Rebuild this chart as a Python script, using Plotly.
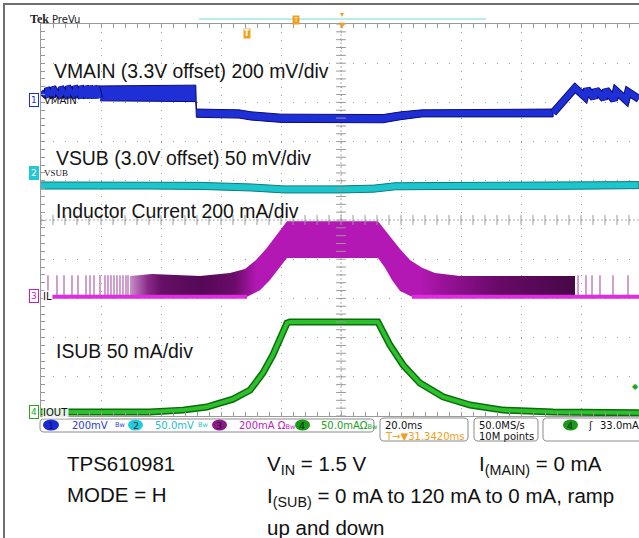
import plotly.graph_objects as go

# ---------------- data (time in ms, 20 ms/div ; vertical in screen divisions 0..10) ----------------
# Channel 1 VMAIN: filled band (upper / lower envelope)
vmain_t = [19.7, 51.6, 51.8, 66, 70, 80, 114, 120, 127, 170.7]
vmain_hi = [8.42, 8.44, 7.83, 7.81, 7.76, 7.70, 7.69, 7.76, 7.81, 7.83]
vmain_lo = [8.04, 8.02, 7.62, 7.60, 7.55, 7.49, 7.48, 7.56, 7.63, 7.63]
# VMAIN sawtooth ripple, left and right parts
vsawL_t = [0, 2, 2, 4, 4, 6.7, 6.7, 9, 9, 11.3, 11.3, 13.3, 13.3, 15, 15, 16.3, 16.3, 17.7, 17.7, 18.7, 18.7, 19.7]
vsawL_d = [8.27, 8.14, 8.37, 8.12, 8.39, 8.11, 8.40, 8.11, 8.42, 8.11, 8.42, 8.11, 8.42, 8.11, 8.42, 8.11, 8.42, 8.11, 8.42, 8.11, 8.42, 8.11]
vsawR_t = [170.7, 174.7, 178, 181.3, 182, 184.3, 185, 187.7, 188.3, 191, 191.7, 195, 195.7, 199.3]
vsawR_d = [7.73, 8.06, 8.37, 8.14, 8.34, 8.11, 8.32, 8.09, 8.32, 8.06, 8.29, 8.06, 8.27, 8.09]

# Channel 2 VSUB band
vsub_t = [0, 36, 53, 70, 81, 100, 111, 118, 136, 170, 199.3]
vsub_hi = [5.97, 5.97, 5.96, 5.92, 5.87, 5.87, 5.89, 5.95, 5.96, 5.96, 5.98]
vsub_lo = [5.79, 5.79, 5.78, 5.74, 5.69, 5.69, 5.71, 5.77, 5.78, 5.78, 5.80]

# Channel 3 inductor current envelope
il_hi_t = [29.67, 37, 53, 63, 68, 71.67, 75, 78.67, 82, 112.33, 116.33, 119.67, 123, 127, 131.33, 139.67, 178]
il_hi_d = [3.57, 3.62, 3.57, 3.65, 3.75, 3.98, 4.26, 4.62, 4.97, 4.97, 4.57, 4.26, 3.98, 3.78, 3.65, 3.57, 3.57]
il_lo_t = [29.67, 68.67, 73, 76.33, 79.67, 82, 112.33, 114.67, 117, 119.67, 123.67, 178]
il_lo_d = [3.04, 3.04, 3.21, 3.47, 3.80, 4.03, 4.03, 3.78, 3.47, 3.19, 3.04, 3.04]
il_base_d = 3.04
il_spike_top = 3.59
il_spike_t = [2.33, 5.33, 7.67, 10.33, 12.33, 15, 16.33, 17.67, 19.67, 21.33, 22.33, 23.33,
              24.33, 25.33, 26.33, 27.33, 28.33, 29, 179, 181.67, 183.67, 186.33, 190.67, 195.67]

# Channel 4 ISUB
isub_t = [0, 36.3, 47.3, 55.3, 58.7, 64, 69.7, 74, 77.3, 80.3, 82, 83, 112.3, 116.3, 120.7,
          126.3, 134, 143, 154, 170.7, 199.3]
isub_d = [0.10, 0.10, 0.15, 0.23, 0.31, 0.43, 0.66, 1.10, 1.56, 2.04, 2.37, 2.40, 2.40, 1.81, 1.30,
          0.84, 0.49, 0.28, 0.15, 0.10, 0.08]

# text
trace_labels = ["VMAIN (3.3V offset) 200 mV/div", "VSUB (3.0V offset) 50 mV/div",
                "Inductor Current 200 mA/div", "ISUB 50 mA/div"]
ch_names = ["VMAIN", "VSUB", "IL", "IOUT"]
ch_scales = ["200mV", "50.0mV", "200mA \u03a9", "50.0mA\u03a9"]

# ---------------- layout geometry ----------------
W, H = 639, 538
L, T, R, B = 41, 24, 639, 416
XMAX = (R - L) / 3.0  # 60 px per 20 ms


def px(x):
    return (x - L) / (R - L)


def py(y):
    return (B - y) / (B - T)


BLUE = "#1f2fd6"
CYAN = "#1cc6cc"
MAG = "#c21cc2"
GREEN = "#22a822"
ORANGE = "#f0a020"
GRID = "#a0a0a0"

fig = go.Figure()

# VSUB band
fig.add_trace(go.Scatter(x=vsub_t + vsub_t[::-1], y=vsub_hi + vsub_lo[::-1], fill="toself",
                         fillcolor=CYAN, line=dict(color="#0f7a7a", width=1), mode="lines",
                         hoverinfo="skip"))

# VMAIN band and ripple
fig.add_trace(go.Scatter(x=vmain_t + vmain_t[::-1], y=vmain_hi + vmain_lo[::-1], fill="toself",
                         fillcolor=BLUE, line=dict(color="#0a0a78", width=1), mode="lines",
                         hoverinfo="skip"))
for tt, dd, w in [(vsawL_t, vsawL_d, 4), (vsawR_t, vsawR_d, 6)]:
    fig.add_trace(go.Scatter(x=tt, y=dd, mode="lines", line=dict(color="#0a0a78", width=w + 2),
                             hoverinfo="skip"))
    fig.add_trace(go.Scatter(x=tt, y=dd, mode="lines", line=dict(color=BLUE, width=w),
                             hoverinfo="skip"))

# IL envelope with horizontal colour gradient
il_x = il_hi_t + il_lo_t[::-1]
il_y = il_hi_d + il_lo_d[::-1]
fig.add_trace(go.Scatter(x=il_x, y=il_y, fill="toself", mode="lines", line=dict(width=0),
                         fillgradient=dict(type="horizontal", colorscale=[
                             [0.0, "#c890c8"], [0.04, "#8a2a8a"], [0.07, "#661066"],
                             [0.16, "#560856"], [0.235, "#6a0c6a"], [0.285, "#b418b4"],
                             [0.65, "#b418b4"], [0.71, "#961296"], [0.83, "#680a68"],
                             [1.0, "#460846"]]),
                         hoverinfo="skip"))
# IL sparse switching pulses
sx, sy = [], []
for t in il_spike_t:
    sx += [t, t, None]
    sy += [il_base_d, il_spike_top, None]
fig.add_trace(go.Scatter(x=sx, y=sy, mode="lines", line=dict(color="#a040a0", width=1),
                         hoverinfo="skip"))
# IL zero baseline
fig.add_trace(go.Scatter(x=[3.67, 68.67, None, 123.67, XMAX],
                         y=[il_base_d, il_base_d, None, il_base_d, il_base_d],
                         mode="lines", line=dict(color="#e02ce0", width=4), hoverinfo="skip"))

# ISUB
fig.add_trace(go.Scatter(x=isub_t, y=isub_d, mode="lines", line=dict(color="#0c6c0c", width=7),
                         hoverinfo="skip"))
fig.add_trace(go.Scatter(x=isub_t, y=isub_d, mode="lines", line=dict(color="#2cc02c", width=4),
                         hoverinfo="skip"))

# centre-axis tick marks
fig.add_trace(go.Scatter(x=[100] * 51, y=[i * 0.2 for i in range(51)], mode="markers",
                         marker=dict(symbol="line-ew", size=7, line=dict(width=1, color="#999999")),
                         hoverinfo="skip"))
fig.add_trace(go.Scatter(x=[i * 4 for i in range(50)], y=[5] * 50, mode="markers",
                         marker=dict(symbol="line-ns", size=7, line=dict(width=1, color="#999999")),
                         hoverinfo="skip"))

shapes = []
# centre cross lines
shapes.append(dict(type="line", xref="x", yref="y", x0=100, x1=100, y0=0, y1=10,
                   line=dict(color="#b0b0b0", width=1, dash="2px,2px"), layer="below"))
shapes.append(dict(type="line", xref="x", yref="y", x0=0, x1=XMAX, y0=5, y1=5,
                   line=dict(color="#b0b0b0", width=1, dash="2px,2px"), layer="below"))
# frame of the picture
shapes.append(dict(type="line", xref="paper", yref="paper", x0=px(3), x1=px(639), y0=py(4), y1=py(4),
                   line=dict(color="#6e6e6e", width=2)))
shapes.append(dict(type="line", xref="paper", yref="paper", x0=px(4), x1=px(4), y0=py(3), y1=py(538),
                   line=dict(color="#6e6e6e", width=2)))
# record-view bar
shapes.append(dict(type="line", xref="paper", yref="paper", x0=px(199), x1=px(486), y0=py(19), y1=py(19),
                   line=dict(color="#6fd8e2", width=1)))


def rrect(x0, y0, x1, y1, r):
    p = lambda x, y: f"{px(x):.5f},{py(y):.5f}"
    return (f"M {p(x0 + r, y0)} L {p(x1 - r, y0)} Q {p(x1, y0)} {p(x1, y0 + r)} "
            f"L {p(x1, y1 - r)} Q {p(x1, y1)} {p(x1 - r, y1)} L {p(x0 + r, y1)} "
            f"Q {p(x0, y1)} {p(x0, y1 - r)} L {p(x0, y0 + r)} Q {p(x0, y0)} {p(x0 + r, y0)} Z")


for (x0, y0, x1, y1) in [(40, 419, 374, 432), (380, 418, 468, 441), (474, 418, 538, 441), (543, 418, 650, 441)]:
    shapes.append(dict(type="path", xref="paper", yref="paper", path=rrect(x0, y0, x1, y1, 4),
                       line=dict(color="#8a8a8a", width=1)))
# channel ovals in status bar
ovals = [(43, 59, "#1a2ad8"), (128, 143, "#22ccd8"), (212, 227, "#8a1a8a"), (295, 310, "#1a9a1a"),
         (563, 578, "#1a9a1a")]
for x0, x1, c in ovals:
    shapes.append(dict(type="circle", xref="paper", yref="paper", x0=px(x0), x1=px(x1),
                       y0=py(430.5), y1=py(419.5), fillcolor=c, line=dict(width=0)))

ann = []


def text(s, x, y, size, color="#111111", family="DejaVu Sans", anchor="left", **kw):
    d = dict(text=s, x=px(x), y=py(y), xref="paper", yref="paper", showarrow=False,
             xanchor=anchor, yanchor="middle", font=dict(size=size, color=color, family=family))
    d.update(kw)
    ann.append(d)


# big trace captions
for s, (x, y) in zip(trace_labels, [(52, 71), (54, 158), (54, 211), (54, 351)]):
    text(s, x, y, 19.4, color="#141414", family="Liberation Sans")

# left channel markers
marks = [(100, BLUE, False), (173, "#22c8d8", True), (296, MAG, False), (412, GREEN, False)]
for i, ((y, c, filled), nm) in enumerate(zip(marks, ch_names)):
    text(str(i + 1), 34, y, 9, color="white" if filled else c, anchor="center",
         bgcolor=c if filled else "white", bordercolor=c, borderwidth=1, borderpad=1)
    kw = dict(bgcolor="rgba(255,255,255,0.85)", borderpad=0) if nm in ("IL", "IOUT") else {}
    text(nm, 42, y, 10 if nm != "VSUB" else 9, color="#111111",
         family="DejaVu Sans" if nm != "VSUB" else "DejaVu Sans Bold", **kw)

# header
text("<b>Tek</b>", 28, 19, 12, color="#222222", family="Liberation Serif")
text("PreVu", 50, 19, 10, color="#222222")
text("T", 296, 20, 7, color="#ffe7b0", anchor="center", bgcolor=ORANGE, borderpad=0)
text("\u25be", 342, 15, 8, color=ORANGE, anchor="center")
text("\u25bc", 342, 26, 8, color=ORANGE, anchor="center")
text("<b>T</b>", 247, 33, 8, color="white", anchor="center", bgcolor=ORANGE, borderpad=0)
text("\u25c6", 635, 386, 8, color=GREEN, anchor="center")

# status bar
oval_txt = [("1", 51, "#10104a"), ("2", 136, "#113344"), ("3", 219, "#2a0a2a"),
            ("4", 302, "#0a2a0a"), ("4", 570, "#0a2a0a")]
for s, xo, c in oval_txt:
    text(s, xo, 425, 9.5, color=c, anchor="center")
text(ch_scales[0], 70, 425, 10, color="#2a3ae0")
text("Bw", 113, 425, 6.5, color="#2a3ae0")
text(ch_scales[1], 153, 425, 10, color="#22c0d0")
text("Bw", 196, 425, 6.5, color="#22c0d0")
text(ch_scales[2] + "<span style='font-size:6.5px'>Bw</span>", 237, 425, 10, color="#c020c0")
text(ch_scales[3] + "<span style='font-size:6.5px'>Bw</span>", 319, 425, 10, color="#1ca01c")
text("20.0ms", 383, 425, 10)
text("T\u2192\u25bc31.3420ms", 383, 436, 10, color=ORANGE)
text("50.0MS/s", 477, 425, 10)
text("10M points", 477, 436, 10)
text("\u0283", 586, 425, 10)
text("33.0mA", 598, 425, 10)

# conditions text below the screen
cf = "Liberation Sans"
text("TPS610981", 65, 463, 20.5, family=cf)
text("MODE = H", 65, 495, 20.5, family=cf)
text("V<sub>IN</sub> = 1.5 V", 265, 465, 20.5, family=cf)
text("I<sub>(MAIN)</sub> = 0 mA", 477, 465, 20.5, family=cf)
text("I<sub>(SUB)</sub> = 0 mA to 120 mA to 0 mA, ramp", 265, 497, 20.5, family=cf)
text("up and down", 265, 527, 20.5, family=cf)

fig.update_layout(
    width=W, height=H, margin=dict(l=L, r=W - R, t=T, b=H - B, pad=0),
    paper_bgcolor="white", plot_bgcolor="white", showlegend=False,
    shapes=shapes, annotations=ann,
    xaxis=dict(range=[0, XMAX], showgrid=True, gridcolor=GRID, gridwidth=1, griddash="1px,6.84px",
               tick0=0, dtick=20, ticks="inside", ticklen=4, tickcolor="#999999",
               showline=True, linecolor="#9a9a9a", linewidth=1, mirror="ticks",
               showticklabels=False, zeroline=False, fixedrange=True,
               minor=dict(dtick=4, ticks="inside", ticklen=4, tickcolor="#999999", showgrid=False)),
    yaxis=dict(range=[0, 10], showgrid=True, gridcolor=GRID, gridwidth=1, griddash="1px,11px",
               tick0=0, dtick=1, ticks="inside", ticklen=4, tickcolor="#999999",
               showline=True, linecolor="#9a9a9a", linewidth=1, mirror=False,
               showticklabels=False, zeroline=False, fixedrange=True,
               minor=dict(dtick=0.2, ticks="inside", ticklen=4, tickcolor="#999999", showgrid=False)),
)

fig.write_html("out.html", config={"displayModeBar": False},
               post_script="document.body.style.margin='0';document.body.style.overflow='hidden';")
